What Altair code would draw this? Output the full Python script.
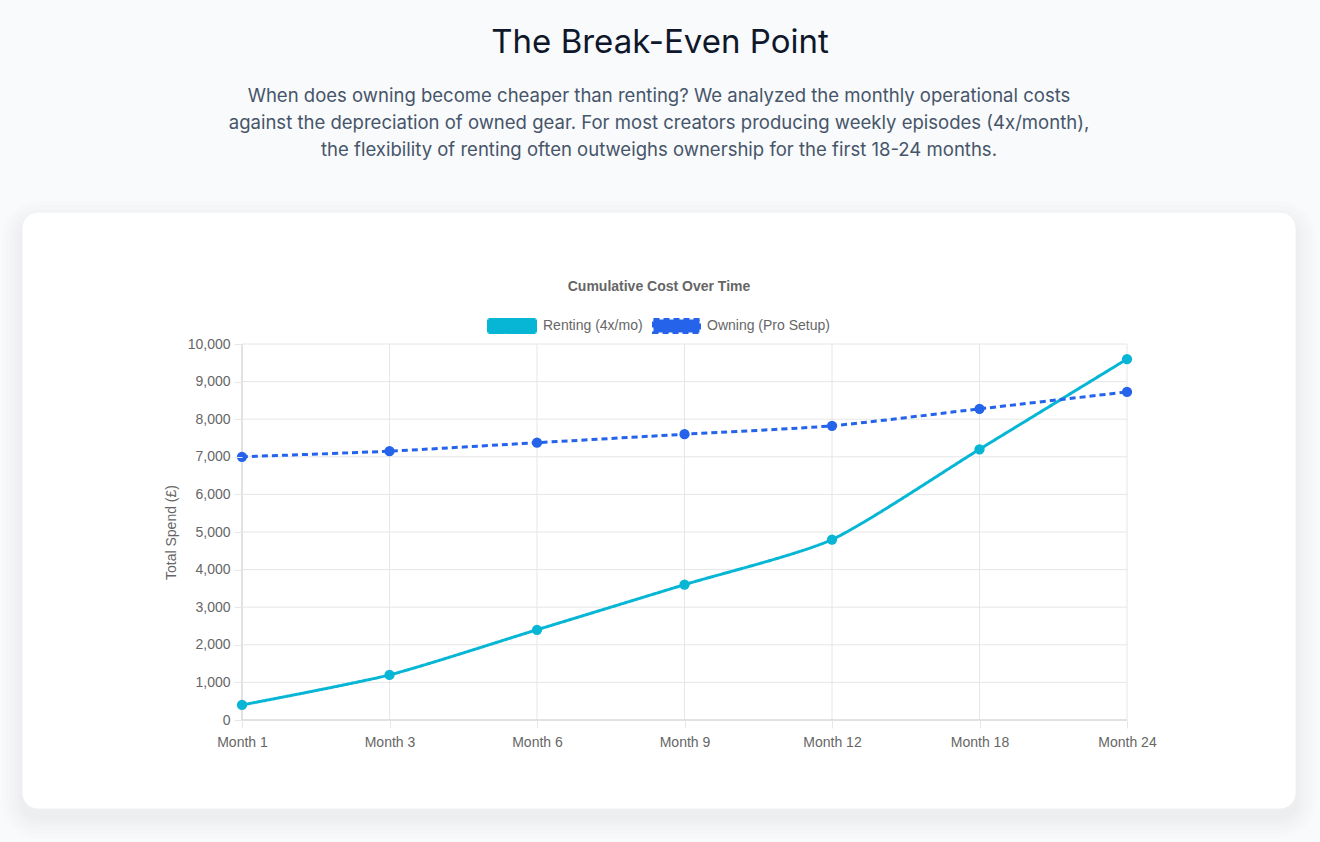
import altair as alt
import pandas as pd

# ---------------- data ----------------
months = ["Month 1", "Month 3", "Month 6", "Month 9", "Month 12", "Month 18", "Month 24"]
renting = [400, 1200, 2400, 3600, 4800, 7200, 9600]
owning = [7000, 7150, 7375, 7600, 7825, 8275, 8725]
series_names = ["Renting (4x/mo)", "Owning (Pro Setup)"]
series_colors = ["#06b6d4", "#2563eb"]
y_ticks = [0, 1000, 2000, 3000, 4000, 5000, 6000, 7000, 8000, 9000, 10000]

page_title = "The Break-Even Point"
subtitle_lines = [
    "When does owning become cheaper than renting? We analyzed the monthly operational costs",
    "against the depreciation of owned gear. For most creators producing weekly episodes (4x/month),",
    "the flexibility of renting often outweighs ownership for the first 18-24 months.",
]
chart_title = "Cumulative Cost Over Time"
y_title = "Total Spend (£)"

# ---------------- layout ----------------
W, H = 885, 376
LEFT, TOP = 242, 344


def px(x):
    return x - LEFT


def py(y):
    return y - TOP


one = pd.DataFrame({"k": [0]})
df = pd.DataFrame({
    "month": months * 2,
    "value": renting + owning,
    "series": [series_names[0]] * len(months) + [series_names[1]] * len(months),
})

CHART_FONT = "Liberation Sans"
GRID = "#e6e6e6"
LABEL = "#666666"

x_axis = alt.Axis(
    labelAngle=0, grid=False, domain=False, ticks=True, tickSize=8, tickColor=GRID,
    labelColor=LABEL, labelFontSize=14, labelFont=CHART_FONT, labelPadding=18,
    labelBaseline="alphabetic", labelOverlap=False, title=None, zindex=1,
)
y_axis = alt.Axis(
    values=y_ticks, format=",.0f", grid=False, domain=False, ticks=True, tickSize=8,
    tickColor=GRID, labelColor=LABEL, labelFontSize=14, labelFont=CHART_FONT,
    labelPadding=4, title=y_title, titleFont=CHART_FONT, titleFontSize=14,
    titleFontWeight="normal", titleColor=LABEL, titleX=-71, titleY=H / 2,
    titleAngle=270, titleAlign="center", titleBaseline="middle", zindex=1,
)
x_scale = alt.Scale(type="point", domain=months, padding=0)
y_scale = alt.Scale(domain=[0, 10000], nice=False, zero=True)

X = alt.X("month:N", scale=x_scale, axis=x_axis)

layers = []

# card shadow
for i, e in enumerate([2, 5, 8, 12, 16, 20]):
    layers.append(
        alt.Chart(one).mark_rect(cornerRadius=16 + e, fill="#0f172a", opacity=0.008).encode(
            x=alt.value(px(22) - e), x2=alt.value(px(1296) + e),
            y=alt.value(py(212) - e + 9), y2=alt.value(py(809) + e + 9),
        )
    )
# card
layers.append(
    alt.Chart(one).mark_rect(cornerRadius=16, fill="white", stroke="#eef0f3", strokeWidth=1).encode(
        x=alt.value(px(22)), x2=alt.value(px(1296)),
        y=alt.value(py(212)), y2=alt.value(py(809)),
    )
)

# page title and subtitle
layers.append(
    alt.Chart(one).mark_text(
        text=page_title, font="Inter", fontSize=33, color="#0f172a",
        align="center", baseline="alphabetic",
    ).encode(x=alt.value(px(660)), y=alt.value(py(53)))
)
for i, line in enumerate(subtitle_lines):
    layers.append(
        alt.Chart(one).mark_text(
            text=line, font="Inter", fontSize=18.55, color="#475569",
            align="center", baseline="alphabetic",
        ).encode(x=alt.value(px(659)), y=alt.value(py(102 + 27 * i)))
    )

# chart title
layers.append(
    alt.Chart(one).mark_text(
        text=chart_title, font=CHART_FONT, fontSize=14, fontWeight="bold", color=LABEL,
        align="center", baseline="middle",
    ).encode(x=alt.value(px(659)), y=alt.value(py(287)))
)

# legend
legend_box_x = [(488.5, 535.5), (653.5, 699.5)]
legend_text_x = [543, 707]
for i, name in enumerate(series_names):
    layers.append(
        alt.Chart(one).mark_rect(
            fill=series_colors[i], stroke=series_colors[i], strokeWidth=3,
            strokeDash=[1, 0] if i == 0 else [6, 4],
        ).encode(
            x=alt.value(px(legend_box_x[i][0])), x2=alt.value(px(legend_box_x[i][1])),
            y=alt.value(py(319.5)), y2=alt.value(py(332.5)),
        )
    )
    layers.append(
        alt.Chart(one).mark_text(
            text=name, font=CHART_FONT, fontSize=14, color=LABEL,
            align="left", baseline="middle",
        ).encode(x=alt.value(px(legend_text_x[i])), y=alt.value(py(326)))
    )

# gridlines
layers.append(
    alt.Chart(pd.DataFrame({"month": months})).mark_rule(color=GRID, strokeWidth=1).encode(
        x=X, y=alt.value(0), y2=alt.value(H)
    )
)
layers.append(
    alt.Chart(pd.DataFrame({"tick": y_ticks})).mark_rule(color=GRID, strokeWidth=1).encode(
        y=alt.Y("tick:Q", scale=y_scale, axis=y_axis), x=alt.value(0), x2=alt.value(W)
    )
)
# axis borders
layers.append(
    alt.Chart(one).mark_rule(color="#d0d0d0", strokeWidth=1).encode(
        x=alt.value(0), y=alt.value(0), y2=alt.value(H)
    )
)
layers.append(
    alt.Chart(one).mark_rule(color="#d0d0d0", strokeWidth=1).encode(
        x=alt.value(0), x2=alt.value(W), y=alt.value(H)
    )
)

Y = alt.Y("value:Q", scale=y_scale, axis=y_axis)
color = alt.Color("series:N", scale=alt.Scale(domain=series_names, range=series_colors), legend=None)
dash = alt.StrokeDash(
    "series:N", scale=alt.Scale(domain=series_names, range=[[1, 0], [6, 4]]), legend=None
)

layers.append(
    alt.Chart(df).mark_line(strokeWidth=3, interpolate="cardinal", tension=0.35).encode(
        x=X, y=Y, color=color, strokeDash=dash
    )
)
layers.append(
    alt.Chart(df).mark_circle(size=105, opacity=1).encode(x=X, y=Y, color=color)
)

chart = alt.layer(*layers).properties(
    width=W, height=H,
    padding={"left": LEFT, "top": TOP, "right": 1320 - LEFT - W, "bottom": 842 - TOP - H},
    autosize=alt.AutoSizeParams(type="none"),
    background="#f8fafc",
).configure_view(stroke=None)

chart.save("out.html", embed_options={"renderer": "svg", "actions": False})
